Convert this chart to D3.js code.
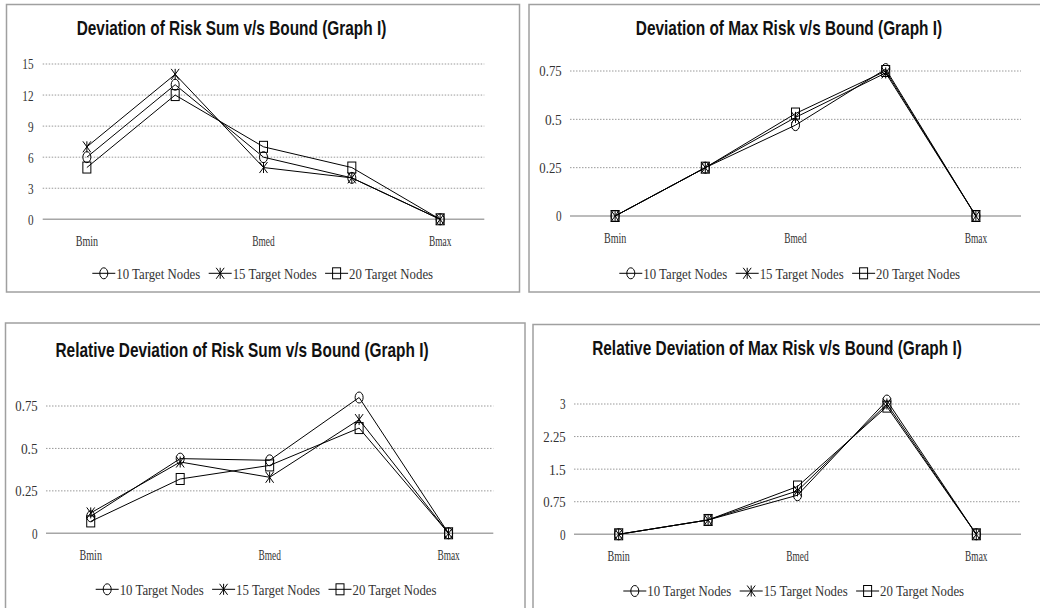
<!DOCTYPE html>
<html>
<head>
<meta charset="utf-8">
<script src="https://cdn.jsdelivr.net/npm/d3@7"></script>
<style>
  body { margin: 0; background: #fff; }
  svg { display: block; }
</style>
</head>
<body>
<svg id="chart" width="1040" height="608"></svg>
<script>
// data
var categories = ['Bmin', '', 'Bmed', '', 'Bmax'];
var seriesNames = ['10 Target Nodes', '15 Target Nodes', '20 Target Nodes'];
var seriesMarkers = ['circle', 'star', 'square'];

var riskSum = [[6, 13, 6, 4, 0], [7, 14, 5, 4, 0], [5, 12, 7, 5, 0]];
var maxRisk = [[0, 0.25, 0.47, 0.76, 0], [0, 0.25, 0.51, 0.74, 0], [0, 0.25, 0.53, 0.75, 0]];
var relRiskSum = [[0.10, 0.44, 0.43, 0.80, 0], [0.12, 0.42, 0.33, 0.67, 0], [0.07, 0.32, 0.40, 0.62, 0]];
var relMaxRisk = [[0, 0.33, 0.9, 3.08, 0], [0, 0.33, 1.0, 3.0, 0], [0, 0.33, 1.1, 2.94, 0]];

var ticksRiskSum = [0, 3, 6, 9, 12, 15];
var ticksMaxRisk = [0, 0.25, 0.5, 0.75];
var ticksRelRiskSum = [0, 0.25, 0.5, 0.75];
var ticksRelMaxRisk = [0, 0.75, 1.5, 2.25, 3];

var titles = [
    'Deviation of Risk Sum v/s Bound (Graph I)',
    'Deviation of Max Risk v/s Bound (Graph I)',
    'Relative Deviation of Risk Sum v/s Bound (Graph I)',
    'Relative Deviation of Max Risk v/s Bound (Graph I)'
];

// layout of the four panels (frame, plot area, text positions)
var panels = [
    { title: titles[0], data: riskSum, ticks: ticksRiskSum,
      frame: [6.5, 4.5, 513, 287.5], plot: [42.7, 484.3, 64, 219.3],
      titleX: 231.5, titleY: 35, tickX: 33.5, labelY: 240.7, legendY: 273.3, legendX: 92.3 },
    { title: titles[1], data: maxRisk, ticks: ticksMaxRisk,
      frame: [529, 4.5, 520, 287.5], plot: [570, 1021, 71, 216],
      titleX: 789, titleY: 35, tickX: 561.7, labelY: 237.3, legendY: 273.3, legendX: 619.3 },
    { title: titles[2], data: relRiskSum, ticks: ticksRelRiskSum,
      frame: [5.5, 323, 519.5, 300], plot: [46, 493.3, 406, 533.3],
      titleX: 242, titleY: 356.7, tickX: 37.7, labelY: 554.3, legendY: 589.3, legendX: 95.7 },
    { title: titles[3], data: relMaxRisk, ticks: ticksRelMaxRisk,
      frame: [533, 324.5, 520, 300], plot: [574, 1021, 404, 534.3],
      titleX: 777, titleY: 355, tickX: 565.7, labelY: 556, legendY: 591, legendX: 623.3 }
];

var svg = d3.select('#chart');
var stretch = 1.35;   // the reference is squashed horizontally
var textColor = '#333';

// serif label, roughly monospaced like the original
function serifText(g, x, y, str, anchor) {
    g.append('text')
        .attr('transform', 'translate(' + x + ',' + y + ') scale(1,' + stretch + ')')
        .attr('text-anchor', anchor)
        .attr('dy', '0.35em')
        .attr('font-family', '"Liberation Serif", "DejaVu Serif", serif')
        .attr('font-size', 11.5)
        .attr('fill', textColor)
        .attr('textLength', str.length * 5.6)
        .attr('lengthAdjust', 'spacingAndGlyphs')
        .text(str);
}

function drawMarker(g, type, x, y) {
    var rx = 4, ry = 5.5;
    var m = g.append('g').attr('transform', 'translate(' + x + ',' + y + ')')
        .attr('fill', 'none').attr('stroke', '#000').attr('stroke-width', 1);
    if (type === 'circle') {
        m.append('ellipse').attr('rx', rx).attr('ry', ry);
    } else if (type === 'square') {
        m.append('rect').attr('x', -rx).attr('y', -ry).attr('width', rx * 2).attr('height', ry * 2);
    } else {
        m.append('path').attr('d',
            'M' + (-rx) + ',' + (-ry) + 'L' + rx + ',' + ry +
            'M' + (-rx) + ',' + ry + 'L' + rx + ',' + (-ry) +
            'M0,' + (-ry) + 'L0,' + ry);
    }
}

panels.forEach(function (p) {
    var g = svg.append('g');

    // chart frame
    g.append('rect')
        .attr('x', p.frame[0]).attr('y', p.frame[1])
        .attr('width', p.frame[2]).attr('height', p.frame[3])
        .attr('fill', '#fff').attr('stroke', '#a0a0a0').attr('stroke-width', 1.5);

    // title
    g.append('text')
        .attr('transform', 'translate(' + p.titleX + ',' + p.titleY + ') scale(1,1.3)')
        .attr('text-anchor', 'middle')
        .attr('font-family', '"Liberation Sans", Arial, sans-serif')
        .attr('font-weight', 'bold')
        .attr('font-size', 15.4)
        .attr('fill', '#111')
        .text(p.title);

    var x = d3.scalePoint()
        .domain(d3.range(categories.length))
        .range([p.plot[0], p.plot[1]])
        .padding(0.5);

    var y = d3.scaleLinear()
        .domain([0, d3.max(p.ticks)])
        .range([p.plot[3], p.plot[2]]);

    // dotted gridlines
    g.selectAll('.grid').data(p.ticks.filter(function (t) { return t > 0; }))
        .enter().append('line')
        .attr('x1', p.plot[0]).attr('x2', p.plot[1])
        .attr('y1', function (d) { return y(d); })
        .attr('y2', function (d) { return y(d); })
        .attr('stroke', '#999').attr('stroke-width', 1)
        .attr('stroke-dasharray', '1.5,1.5');

    // x axis line
    g.append('line')
        .attr('x1', p.plot[0]).attr('x2', p.plot[1])
        .attr('y1', y(0)).attr('y2', y(0))
        .attr('stroke', '#a6a6a6').attr('stroke-width', 1.5);

    // y tick labels
    p.ticks.forEach(function (t) {
        serifText(g, p.tickX, y(t), String(t), 'end');
    });

    // category labels
    categories.forEach(function (c, i) {
        if (c) serifText(g, x(i), p.labelY, c, 'middle');
    });

    // series lines then markers
    var line = d3.line()
        .x(function (d, i) { return x(i); })
        .y(function (d) { return y(d); });

    p.data.forEach(function (vals) {
        g.append('path')
            .attr('d', line(vals))
            .attr('fill', 'none')
            .attr('stroke', '#000')
            .attr('stroke-width', 1);
    });

    p.data.forEach(function (vals, s) {
        vals.forEach(function (v, i) {
            drawMarker(g, seriesMarkers[s], x(i), y(v));
        });
    });

    // legend
    var itemStep = 116.4;
    seriesNames.forEach(function (name, s) {
        var lx = p.legendX + s * itemStep;
        g.append('line')
            .attr('x1', lx).attr('x2', lx + 23)
            .attr('y1', p.legendY).attr('y2', p.legendY)
            .attr('stroke', '#000').attr('stroke-width', 1);
        drawMarker(g, seriesMarkers[s], lx + 11.5, p.legendY);
        serifText(g, lx + 24, p.legendY, name, 'start');
    });
});
</script>
</body>
</html>
